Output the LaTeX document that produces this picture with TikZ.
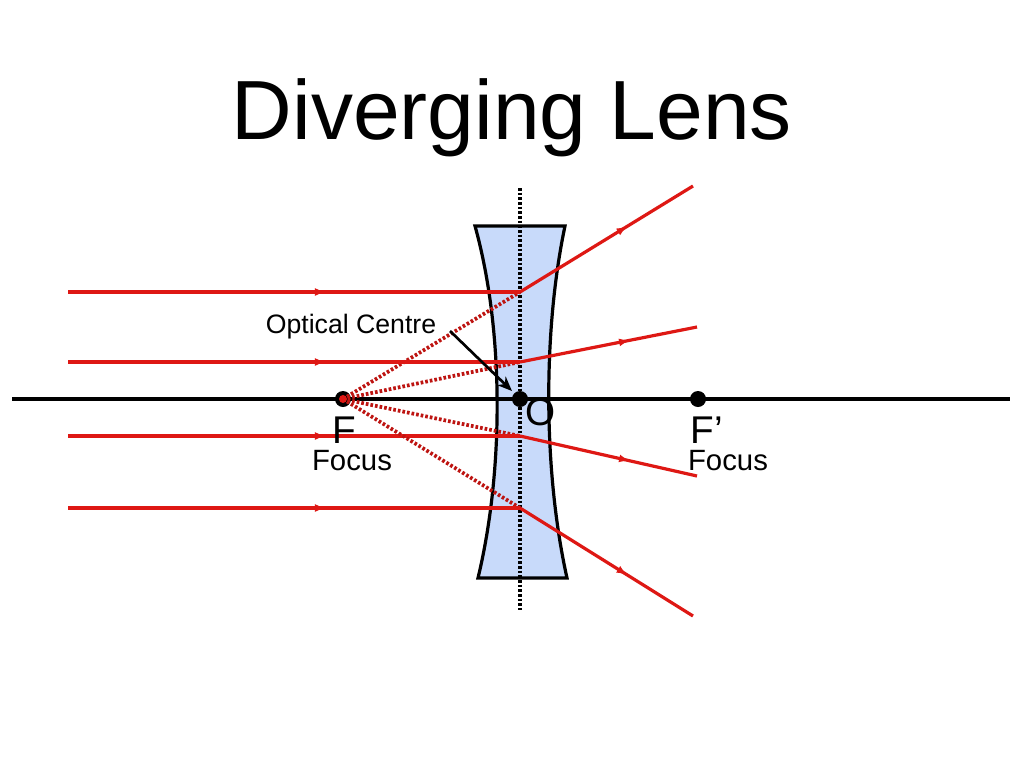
\documentclass[tikz,border=0pt]{standalone}
\usepackage{fontspec}
\setmainfont{Liberation Sans}
\usetikzlibrary{arrows.meta,decorations.markings}
\definecolor{raycol}{RGB}{222,24,20}
\definecolor{lensfill}{RGB}{200,218,250}
\begin{document}
\begin{tikzpicture}[x=0.75pt,y=-0.75pt,
  ray/.style={draw=raycol,line width=2.4pt,postaction={decorate},decoration={markings,mark=at position #1 with {\arrow[raycol]{Latex[length=8pt,width=6pt]}}}},
  virt/.style={draw=raycol!85!black,line width=2.8pt,dash pattern=on 2pt off 1.5pt},
  dot/.style={circle,fill=black,inner sep=0pt,minimum size=12pt},
  lbl/.style={font=\fontsize{22}{24}\selectfont,inner sep=0pt}]
\useasboundingbox (0,0) rectangle (1024,768);
\node[font=\fontsize{63}{70}\selectfont] (title) at (512,118) {Diverging Lens};
% lens
\draw[fill=lensfill,line width=2.4pt] (475,226) -- (565,226) .. controls (543,330) and (543,470) .. (567,578) -- (478,578) .. controls (504,470) and (504,330) .. (475,226) -- cycle;
\draw[line width=2.4pt] (12,399) -- (1010,399);
\draw[line width=2.4pt,dash pattern=on 2pt off 1.5pt] (520,188) -- (520,610);
\coordinate (P1) at (520,292); \coordinate (P2) at (520,362);
\coordinate (P3) at (520,436); \coordinate (P4) at (520,508);
\coordinate (S1) at (68,292); \coordinate (S2) at (68,362);
\coordinate (S3) at (68,436); \coordinate (S4) at (68,508);
\coordinate (E1) at (693,186); \coordinate (E2) at (697,327);
\coordinate (E3) at (697,476); \coordinate (E4) at (693,616);
\node[dot] (F) at (343,399) {};
\node[dot] (O) at (520,399) {};
\node[dot] (F2) at (698,399) {};
\foreach \i in {1,...,4}{
  \draw[virt] (F.center) -- (P\i);
  \draw[ray=0.57] (S\i) -- (P\i);
  \draw[ray=0.62] (P\i) -- (E\i);
}
\fill[raycol] (F) circle (3pt);
\node[lbl,font=\fontsize{29}{31}\selectfont] (Fl) at (344,430) {F};
\node[lbl] (Ff) at (352,461) {Focus};
\node[lbl,font=\fontsize{29}{31}\selectfont] (Ol) at (541,412) {O};
\node[lbl,font=\fontsize{29}{31}\selectfont] (F2l) at (707,430) {F’};
\node[lbl] (F2f) at (728,461) {Focus};
\node[lbl,font=\fontsize{20}{22}\selectfont] (oc) at (351,327) {Optical Centre};
\coordinate (ocs) at (450,331);
\draw[line width=2pt,-{Stealth[length=11pt,width=9pt]}] (ocs) -- (512,391);
\end{tikzpicture}
\end{document}
